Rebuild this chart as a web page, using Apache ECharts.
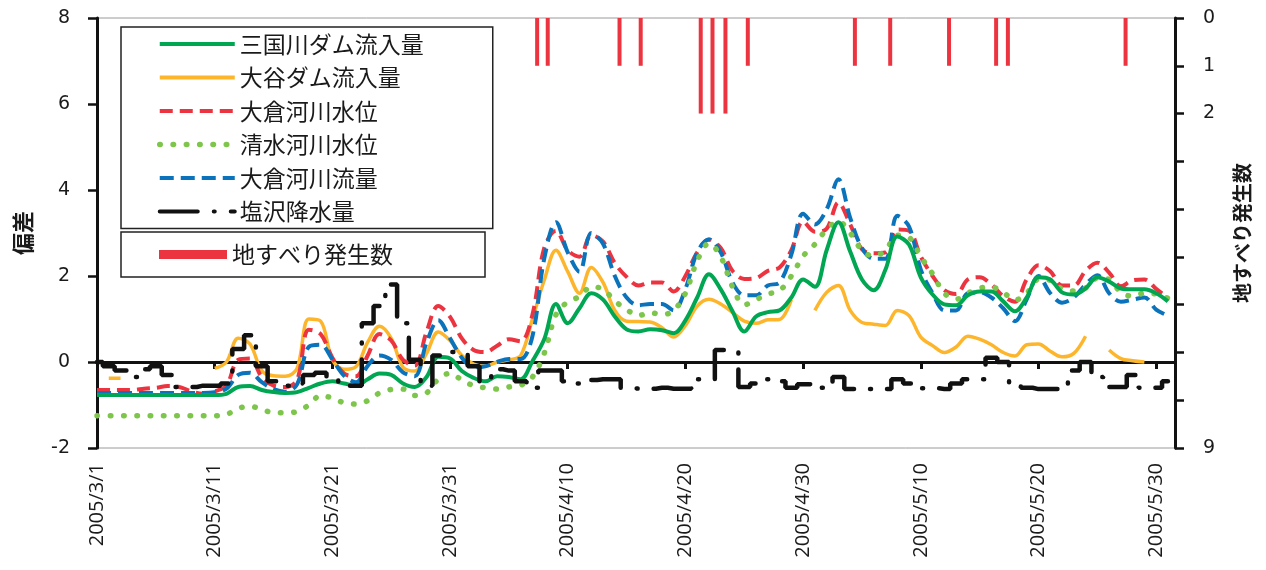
<!DOCTYPE html>
<html><head><meta charset="utf-8">
<script src="https://cdn.jsdelivr.net/npm/echarts@6/dist/echarts.min.js"></script>
<style>html,body{margin:0;padding:0;background:#fff;}#chart{width:1266px;height:570px;}</style>
</head><body><div id="chart"></div>
<script>
// x: days since 2005/3/1 (index of each value)
const xTickLabels = ['2005/3/1','2005/3/11','2005/3/21','2005/3/31','2005/4/10','2005/4/20','2005/4/30','2005/5/10','2005/5/20','2005/5/30'];
const xTickDays = [0,10,20,30,40,50,60,70,80,90];
const rightTickLabels = ['0','1','2','','','','','','','9'];

const mikuniInflow = [-0.77,-0.77,-0.77,-0.77,-0.77,-0.77,-0.77,-0.77,-0.77,-0.77,-0.77,
-0.74,-0.58,-0.56,-0.65,-0.7,-0.72,-0.7,-0.6,-0.5,
-0.45,-0.5,-0.55,-0.4,-0.27,-0.3,-0.5,-0.58,-0.35,0.12,
0.08,-0.21,-0.37,-0.45,-0.33,-0.35,-0.4,0.02,0.53,1.35,
0.9,1.25,1.6,1.45,1.06,0.76,0.71,0.76,0.74,0.67,
0.97,1.5,2.04,1.69,1.18,0.71,1.06,1.16,1.2,1.5,
1.92,1.75,2.6,3.25,2.57,1.92,1.67,2.15,2.92,2.73,
1.97,1.57,1.34,1.32,1.55,1.64,1.64,1.41,1.18,1.5,
1.97,1.92,1.62,1.57,1.71,1.97,1.87,1.71,1.69,1.69,
1.6,1.41];

const otaniInflow = [null,-0.38,-0.38,null,null,null,null,null,null,null,
-0.15,0.0,0.55,0.42,-0.2,-0.32,-0.33,-0.15,1.0,0.95,
0.05,-0.17,-0.11,0.46,0.83,0.55,-0.12,-0.21,0.2,0.7,
0.5,0.15,-0.05,-0.1,0.0,0.05,0.15,1.0,1.9,2.6,
2.1,1.6,2.2,1.85,1.2,0.95,0.94,0.93,0.8,0.58,
0.85,1.3,1.46,1.35,1.15,0.95,0.9,0.98,0.99,1.45,
null,1.2,1.62,1.78,1.2,0.92,0.88,0.85,1.2,1.08,
0.58,0.38,0.22,0.35,0.6,0.53,0.4,0.22,0.14,0.4,
0.42,0.25,0.12,0.2,0.6,null,0.28,0.08,0.03,0.0,
null,-0.17];

const okuraLevel = [-0.65,-0.65,-0.65,-0.65,-0.62,-0.6,-0.56,-0.58,-0.68,-0.74,
-0.68,-0.55,0.05,0.08,-0.35,-0.55,-0.58,-0.42,0.75,0.65,
0.1,-0.27,-0.33,0.15,0.65,0.5,0.05,-0.08,0.7,1.3,
1.05,0.55,0.28,0.23,0.38,0.53,0.48,1.1,2.65,3.05,
2.6,2.45,2.95,2.8,2.3,1.98,1.78,1.85,1.85,1.64,
2.0,2.55,2.85,2.65,2.12,1.93,1.95,2.12,2.2,2.6,
3.27,3.03,3.1,3.71,3.2,2.62,2.53,2.55,3.08,3.05,
2.45,2.0,1.67,1.58,1.92,1.97,1.8,1.53,1.4,1.92,
2.25,2.11,1.78,1.78,2.12,2.31,2.08,1.76,1.9,1.92,
1.7,1.5];

const shimizuLevel = [-1.25,-1.25,-1.25,-1.25,-1.25,-1.25,-1.25,-1.25,-1.25,-1.25,-1.25,
-1.22,-1.08,-1.03,-1.1,-1.18,-1.18,-1.15,-1.0,-0.78,
-0.84,-0.95,-0.98,-0.9,-0.72,-0.64,-0.63,-0.78,-0.72,-0.4,
-0.26,-0.42,-0.55,-0.6,-0.63,-0.58,-0.54,-0.35,0.2,1.1,
1.4,1.52,1.75,1.69,1.42,1.22,1.08,1.15,1.1,1.2,
1.6,2.35,2.76,2.45,1.75,1.33,1.45,1.58,1.66,2.0,
2.46,2.74,3.08,3.27,3.0,2.6,2.46,2.6,2.95,2.9,
2.45,2.05,1.6,1.46,1.6,1.72,1.74,1.62,1.44,1.6,
1.92,1.9,1.7,1.65,1.72,1.95,1.92,1.62,1.53,1.6,
1.58,1.48];

const okuraFlow = [-0.72,-0.72,-0.72,-0.72,-0.72,-0.72,-0.72,-0.72,-0.72,-0.72,
-0.7,-0.62,-0.3,-0.25,-0.47,-0.63,-0.69,-0.52,0.35,0.4,
0.06,-0.32,-0.47,-0.09,0.15,0.05,-0.24,-0.33,0.45,0.97,
0.55,0.1,-0.12,-0.1,0.0,0.07,0.07,0.6,2.4,3.25,
2.55,2.1,3.0,2.75,2.0,1.5,1.32,1.35,1.35,1.2,
1.7,2.55,2.85,2.55,1.85,1.55,1.55,1.78,1.85,2.5,
3.45,3.2,3.55,4.25,3.35,2.65,2.4,2.4,3.4,3.15,
2.15,1.6,1.2,1.2,1.6,1.62,1.5,1.25,0.95,1.46,
2.0,1.6,1.38,1.5,1.8,2.02,1.6,1.4,1.45,1.5,
1.22,1.08];

const shiozawaRain = [0.0,-0.1,-0.2,-0.35,-0.17,-0.1,-0.3,-0.58,-0.58,-0.55,
-0.55,-0.5,0.3,0.62,-0.1,-0.45,-0.55,-0.5,-0.3,-0.25,
-0.4,-0.55,-0.55,0.9,1.3,1.8,0.9,0.05,-0.55,0.15,
0.23,0.2,-0.1,-0.45,-0.17,-0.2,-0.45,-0.6,-0.2,-0.2,
-0.45,-0.5,-0.42,-0.4,-0.4,-0.6,-0.62,-0.62,-0.6,-0.62,
-0.62,-0.4,-0.4,0.28,0.25,-0.58,-0.5,-0.4,-0.45,-0.6,
-0.52,-0.5,-0.6,-0.35,-0.63,-0.63,-0.63,-0.63,-0.4,-0.5,
-0.61,-0.61,-0.63,-0.5,-0.4,-0.4,0.1,0.0,-0.55,-0.6,
-0.63,-0.63,-0.63,-0.2,0.0,-0.35,-0.58,-0.58,-0.3,-0.6,
-0.6,-0.45];

const slideDays = [37.4,38.3,44.4,46.2,51.3,52.3,53.4,55.3,64.4,67.4,72.4,76.4,77.4,87.4];
const slideCounts = [1,1,1,1,2,2,2,1,1,1,1,1,1,1];

const pair = arr => arr.map((v, i) => [i, v]);
const FONT_JP = 'Noto Sans CJK JP';
const TXT = '#1a1a1a';

const lineBase = {type: 'line', symbol: 'none', smooth: 0.35, xAxisIndex: 0, yAxisIndex: 0, z: 2, connectNulls: false};

const chart = echarts.init(document.getElementById('chart'));
chart.setOption({
  animation: false,
  backgroundColor: '#fff',
  grid: {left: 97, right: 91, top: 18, bottom: 122, show: true, borderColor: '#9a9a9a', borderWidth: 1, backgroundColor: 'transparent'},
  legend: [
    {
      left: 121, top: 27, orient: 'vertical', padding: [5, 33, 5, 36], itemGap: 9.5,
      itemWidth: 75, itemHeight: 6, itemTextGap: 8,
      borderColor: '#222', borderWidth: 1.5, backgroundColor: '#fff', selectedMode: false,
      data: [
        {name: '三国川ダム流入量'}, {name: '大谷ダム流入量'}, {name: '大倉河川水位'},
        {name: '清水河川水位', lineStyle: {width: 5.5}}, {name: '大倉河川流量'}, {name: '塩沢降水量'}
      ],
      textStyle: {fontSize: 23, lineHeight: 24, width: 220, color: TXT, fontFamily: FONT_JP},
      itemStyle: {color: 'rgba(0,0,0,0)', borderWidth: 0},
      lineStyle: {width: 4}
    },
    {
      left: 121, top: 232, orient: 'vertical', padding: [10.5, 33, 10.5, 38],
      itemWidth: 68, itemHeight: 9, itemTextGap: 13, icon: 'rect',
      borderColor: '#222', borderWidth: 1.5, backgroundColor: '#fff', selectedMode: false,
      data: ['地すべり発生数'],
      textStyle: {fontSize: 23, lineHeight: 24, width: 220, color: TXT, fontFamily: FONT_JP}
    }
  ],
  xAxis: {
    type: 'value', min: 0, max: 91.6, interval: 10, position: 'bottom', offset: 7,
    axisLine: {show: true, lineStyle: {color: '#111', width: 3}},
    axisTick: {show: true, length: 7, customValues: xTickDays, lineStyle: {color: '#111', width: 3}},
    splitLine: {show: false},
    axisLabel: {
      rotate: 90, margin: 8, fontSize: 20, fontFamily: 'Open Sans', color: TXT,
      customValues: xTickDays,
      formatter: v => xTickLabels[xTickDays.indexOf(Math.round(v))] || ''
    }
  },
  yAxis: [
    {
      type: 'value', min: -2, max: 8, interval: 2, position: 'left',
      axisLine: {show: true, lineStyle: {color: '#111', width: 3}},
      axisTick: {show: true, length: 9, lineStyle: {color: '#111', width: 2.5}},
      splitLine: {show: false},
      axisLabel: {margin: 27, fontSize: 19, fontFamily: 'DejaVu Sans', color: TXT},
      name: '偏差', nameLocation: 'middle', nameGap: 63, nameRotate: 90,
      nameTextStyle: {fontSize: 22, fontWeight: 'bold', fontFamily: FONT_JP, color: TXT}
    },
    {
      type: 'value', min: 0, max: 9, interval: 1, inverse: true, position: 'right',
      axisLine: {show: true, lineStyle: {color: '#111', width: 3}},
      axisTick: {show: true, length: 9, lineStyle: {color: '#111', width: 2.5}},
      splitLine: {show: false},
      axisLabel: {margin: 28, fontSize: 19, fontFamily: 'DejaVu Sans', color: TXT,
        formatter: v => rightTickLabels[Math.round(v)] || ''},
      name: '地すべり発生数', nameLocation: 'middle', nameGap: 57, nameRotate: 90,
      nameTextStyle: {fontSize: 20, fontWeight: 'bold', fontFamily: FONT_JP, color: TXT}
    }
  ],
  series: [
    Object.assign({}, lineBase, {name: '大谷ダム流入量', data: pair(otaniInflow),
      lineStyle: {color: '#FDB52B', width: 3.5}, itemStyle: {color: '#FDB52B'}}),
    Object.assign({}, lineBase, {name: '大倉河川水位', data: pair(okuraLevel),
      lineStyle: {color: '#EC3440', width: 4, type: [13, 7]}, itemStyle: {color: '#EC3440'}}),
    Object.assign({}, lineBase, {name: '大倉河川流量', data: pair(okuraFlow),
      lineStyle: {color: '#0A73BB', width: 4, type: [14, 7]}, itemStyle: {color: '#0A73BB'}}),
    Object.assign({}, lineBase, {name: '清水河川水位', data: pair(shimizuLevel),
      lineStyle: {color: '#7DC64B', width: 5.5, type: [0.5, 12.8], cap: 'round'}, itemStyle: {color: '#7DC64B'}}),
    Object.assign({}, lineBase, {name: '三国川ダム流入量', data: pair(mikuniInflow),
      lineStyle: {color: '#00A651', width: 4}, itemStyle: {color: '#00A651'}}),
    Object.assign({}, lineBase, {name: '塩沢降水量', data: pair(shiozawaRain), smooth: false, step: 'middle',
      lineStyle: {color: '#111', width: 4.5, type: [38, 16, 1, 16], cap: 'round'}, itemStyle: {color: '#111'}}),
    {type: 'bar', name: '地すべり発生数', xAxisIndex: 0, yAxisIndex: 1, barWidth: 4, z: 3,
      data: slideDays.map((d, i) => [d, slideCounts[i]]), itemStyle: {color: '#EC3440'}}
  ]
});
</script></body></html>
